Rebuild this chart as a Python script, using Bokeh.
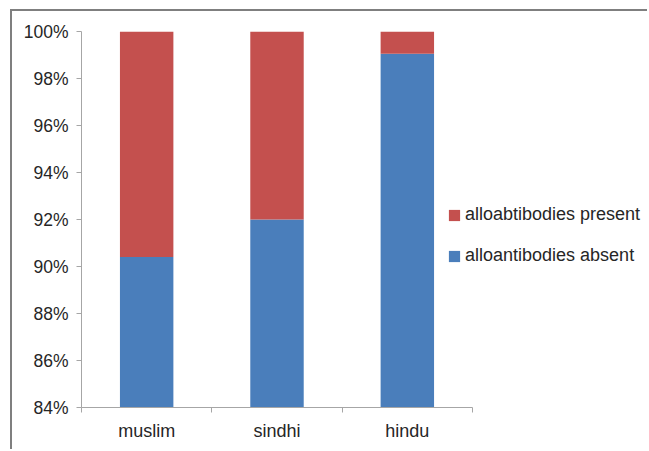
from bokeh.plotting import figure
from bokeh.models import (ColumnDataSource, Legend, LegendItem, FixedTicker,
                          PrintfTickFormatter, Range1d)
from bokeh.embed import file_html
from bokeh.resources import INLINE

# ---- data ----
categories = ["muslim", "sindhi", "hindu"]
absent = [90.4, 92.0, 99.05]          # % alloantibodies absent
present = [100 - a for a in absent]   # % alloabtibodies present (stack to 100%)
y_ticks = [84, 86, 88, 90, 92, 94, 96, 98, 100]
series_names = ["alloantibodies absent", "alloabtibodies present"]

BLUE = "#4A7EBB"
RED = "#C4504E"
FONT = "Liberation Sans"
TXT = "#262626"

n = len(categories)
xpos = [i + 0.5 for i in range(n)]
src = ColumnDataSource(dict(x=xpos, absent=absent, present=present))

# frame extends to the right edge so the legend (inside the frame) is not clipped;
# the axis line itself is bounded to the category area.
plot_w, plot_h = 637, 440
left_b, top_b, bottom_b = 69, 20, 44
cat_area_px = 391
frame_w = plot_w - left_b
x_end = n * frame_w / cat_area_px

p = figure(width=plot_w, height=plot_h, output_backend="svg", toolbar_location=None,
           x_range=Range1d(0, x_end), y_range=Range1d(84, 100),
           min_border_left=left_b, min_border_right=0, min_border_top=top_b,
           min_border_bottom=bottom_b)
p.margin = (9, 0, 0, 10)
p.styles = {"border-top": "2px solid #7f7f7f", "border-left": "2px solid #7f7f7f"}
p.outline_line_color = None
p.xgrid.grid_line_color = None
p.ygrid.grid_line_color = None

rs = p.vbar_stack(["absent", "present"], x="x", width=0.41, color=[BLUE, RED],
                  line_color=None, source=src)

# y axis
ya = p.yaxis[0]
ya.ticker = FixedTicker(ticks=y_ticks, minor_ticks=[])
ya.formatter = PrintfTickFormatter(format="%d%%")
ya.axis_line_color = "#a6a6a6"
ya.major_tick_line_color = "#a6a6a6"
ya.major_tick_out = 5
ya.major_tick_in = 0
ya.major_label_standoff = 8
ya.major_label_text_font = FONT
ya.major_label_text_font_size = "17.5px"
ya.major_label_text_color = TXT

# x axis: labels at centres, small ticks at category boundaries
xa = p.xaxis[0]
xa.bounds = (0, n)
xa.ticker = FixedTicker(ticks=xpos, minor_ticks=list(range(n + 1)))
xa.major_label_overrides = {x: c for x, c in zip(xpos, categories)}
xa.axis_line_color = "#a6a6a6"
xa.major_tick_line_color = None
xa.major_tick_out = 0
xa.major_tick_in = 0
xa.minor_tick_line_color = "#a6a6a6"
xa.minor_tick_out = 5
xa.minor_tick_in = 0
xa.major_label_standoff = 8
xa.major_label_text_font = FONT
xa.major_label_text_font_size = "18px"
xa.major_label_text_color = TXT

legend = Legend(items=[LegendItem(label=series_names[1], renderers=[rs[1]]),
                       LegendItem(label=series_names[0], renderers=[rs[0]])],
                location=(366, 141), padding=0, margin=0, spacing=20,
                label_height=20, glyph_height=14, glyph_width=14,
                label_standoff=4, border_line_color=None,
                background_fill_alpha=0,
                label_text_font=FONT, label_text_font_size="18px",
                label_text_color=TXT)
p.add_layout(legend, "center")

open("out.html", "w").write(file_html(p, INLINE))
